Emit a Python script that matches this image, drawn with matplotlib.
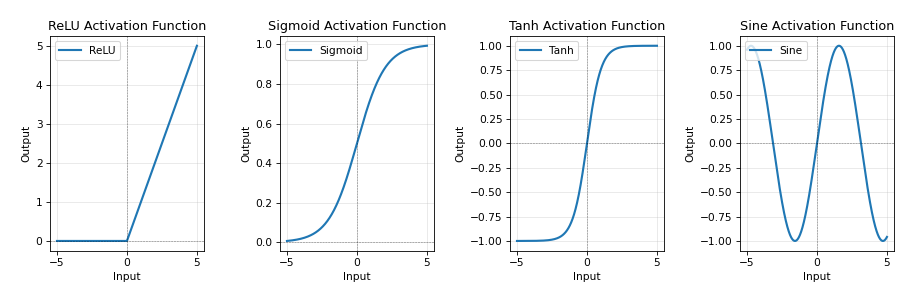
import numpy as np
import matplotlib
matplotlib.use("Agg")
import matplotlib.pyplot as plt

x = np.linspace(-5, 5, 1000)
names = ["ReLU", "Sigmoid", "Tanh", "Sine"]
values = [np.maximum(0, x), 1 / (1 + np.exp(-x)), np.tanh(x), np.sin(x)]

fig, axes = plt.subplots(1, 4, figsize=(12, 4), dpi=76.25)
plt.subplots_adjust(left=0.0546, right=0.977, top=0.882, bottom=0.178, wspace=0.494)
for ax, name, y in zip(axes, names, values):
    ax.plot(x, y, lw=2, label=name, color="#1f77b4")
    ax.axhline(0, color="black", lw=0.5, ls="--", alpha=0.5)
    ax.axvline(0, color="black", lw=0.5, ls="--", alpha=0.5)
    ax.grid(True, alpha=0.3)
    ax.set_title(f"{name} Activation Function")
    ax.set_xlabel("Input")
    ax.set_ylabel("Output")
    ax.legend(loc="upper left")
fig.savefig("out.png", dpi=76.25)
